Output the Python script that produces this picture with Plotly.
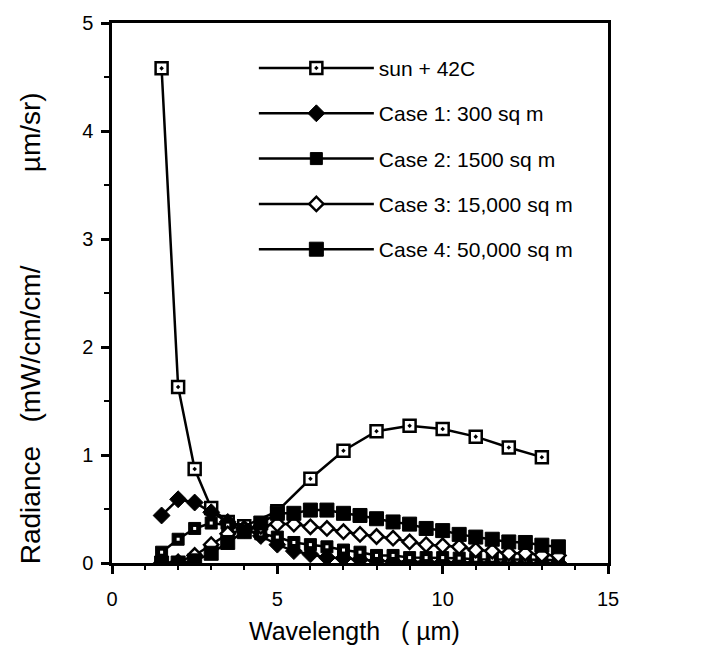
import plotly.graph_objects as go

# ---- data ----
sun_x = [1.5, 2, 2.5, 3, 3.5, 4, 5, 6, 7, 8, 9, 10, 11, 12, 13]
sun_y = [4.58, 1.63, 0.87, 0.51, 0.38, 0.34, 0.48, 0.78, 1.04, 1.22, 1.27, 1.24, 1.17, 1.07, 0.98]

case_x = [1.5, 2, 2.5, 3, 3.5, 4, 4.5, 5, 5.5, 6, 6.5, 7, 7.5, 8, 8.5, 9, 9.5, 10, 10.5, 11, 11.5, 12, 12.5, 13, 13.5]
case1_y = [0.44, 0.59, 0.56, 0.47, 0.38, 0.32, 0.25, 0.17, 0.11, 0.08, 0.05, 0.045, 0.03, 0.02, 0.015, 0.01, 0.01, 0.01, 0.005, 0.005, 0.005, 0.0, 0.0, 0.0, 0.0]
case2_y = [0.10, 0.22, 0.32, 0.37, 0.35, 0.31, 0.27, 0.24, 0.19, 0.17, 0.15, 0.12, 0.10, 0.07, 0.07, 0.05, 0.05, 0.05, 0.045, 0.035, 0.035, 0.03, 0.03, 0.03, 0.025]
case3_y = [0.0, 0.01, 0.07, 0.17, 0.27, 0.31, 0.34, 0.36, 0.36, 0.335, 0.32, 0.29, 0.265, 0.245, 0.23, 0.195, 0.17, 0.16, 0.15, 0.12, 0.11, 0.09, 0.09, 0.076, 0.07]
case4_y = [0.0, 0.0, 0.02, 0.09, 0.19, 0.29, 0.37, 0.46, 0.46, 0.49, 0.49, 0.46, 0.44, 0.41, 0.38, 0.36, 0.32, 0.30, 0.265, 0.24, 0.22, 0.195, 0.19, 0.165, 0.15]

names = ["sun + 42C", "Case 1: 300 sq m", "Case 2: 1500 sq m", "Case 3: 15,000 sq m", "Case 4: 50,000 sq m"]
x_title = "Wavelength   ( \u00b5m)"
y_title = "Radiance   (mW/cm/cm/            \u00b5m/sr)"

FONT = "Liberation Sans, Arial, sans-serif"
LW = 2.5

fig = go.Figure()

fig.add_trace(go.Scatter(x=sun_x, y=sun_y, name=names[0], mode="lines+markers",
                         line=dict(color="black", width=LW), legendgroup="g0", legendrank=1,
                         marker=dict(symbol="square-dot", size=12, color="white",
                                     line=dict(color="black", width=2.5))))
fig.add_trace(go.Scatter(x=case_x, y=case1_y, name=names[1], mode="lines+markers",
                         line=dict(color="black", width=LW), legendgroup="g1", legendrank=2,
                         marker=dict(symbol="diamond", size=13, color="black",
                                     line=dict(color="black", width=1))))
fig.add_trace(go.Scatter(x=case_x, y=case2_y, name=names[2], mode="lines+markers",
                         line=dict(color="black", width=LW), legendgroup="g2", legendrank=3,
                         marker=dict(symbol="square", size=12, color="black",
                                     line=dict(color="black", width=1))))
fig.add_trace(go.Scatter(x=case_x, y=case2_y, mode="markers", showlegend=False,
                         legendgroup="g2", hoverinfo="skip",
                         marker=dict(symbol="square", size=3, color="white", line=dict(width=0))))
fig.add_trace(go.Scatter(x=case_x, y=case3_y, name=names[3], mode="lines+markers",
                         line=dict(color="black", width=LW), legendgroup="g3", legendrank=4,
                         marker=dict(symbol="diamond", size=11, color="white",
                                     line=dict(color="black", width=2.5))))
fig.add_trace(go.Scatter(x=case_x, y=case4_y, name=names[4], mode="lines+markers",
                         line=dict(color="black", width=LW), legendgroup="g4", legendrank=5,
                         marker=dict(symbol="square", size=14, color="black",
                                     line=dict(color="black", width=1))))

axis_common = dict(showline=True, linecolor="black", linewidth=2.5, mirror=True,
                   ticks="outside", tickcolor="black", tickwidth=2.5, ticklen=8,
                   showgrid=False, zeroline=False, ticklabeloverflow="allow",
                   tickfont=dict(family=FONT, size=20, color="black"))

fig.update_xaxes(range=[0, 15], tick0=0, dtick=5, ticklabelstandoff=8,
                 minor=dict(ticks="outside", dtick=1, ticklen=4, tickcolor="black", tickwidth=2),
                 **axis_common)
fig.update_yaxes(range=[0, 5], tick0=0, dtick=1, ticklabelstandoff=4,
                 minor=dict(ticks="outside", dtick=0.5, ticklen=5, tickcolor="black", tickwidth=2),
                 **axis_common)

fig.add_annotation(text=x_title, xref="paper", yref="paper", x=0.488, y=-0.126,
                   xanchor="center", yanchor="middle", showarrow=False,
                   font=dict(family=FONT, size=25, color="black"))
fig.add_annotation(text=y_title, xref="paper", yref="paper", x=-0.165, y=0.435,
                   xanchor="center", yanchor="middle", showarrow=False, textangle=-90,
                   font=dict(family=FONT, size=28, color="black"))

fig.update_layout(
    width=712, height=647,
    margin=dict(l=112, r=104, t=14, b=84),
    plot_bgcolor="white", paper_bgcolor="white",
    showlegend=True,
    legend=dict(x=0.286, y=0.954, xanchor="left", yanchor="top",
                bgcolor="rgba(0,0,0,0)", borderwidth=0,
                itemwidth=115, tracegroupgap=15,
                font=dict(family=FONT, size=21, color="black")),
)

fig.write_html("out.html", config={"displayModeBar": False},
               post_script="document.body.style.margin='0';document.body.style.overflow='hidden';")
